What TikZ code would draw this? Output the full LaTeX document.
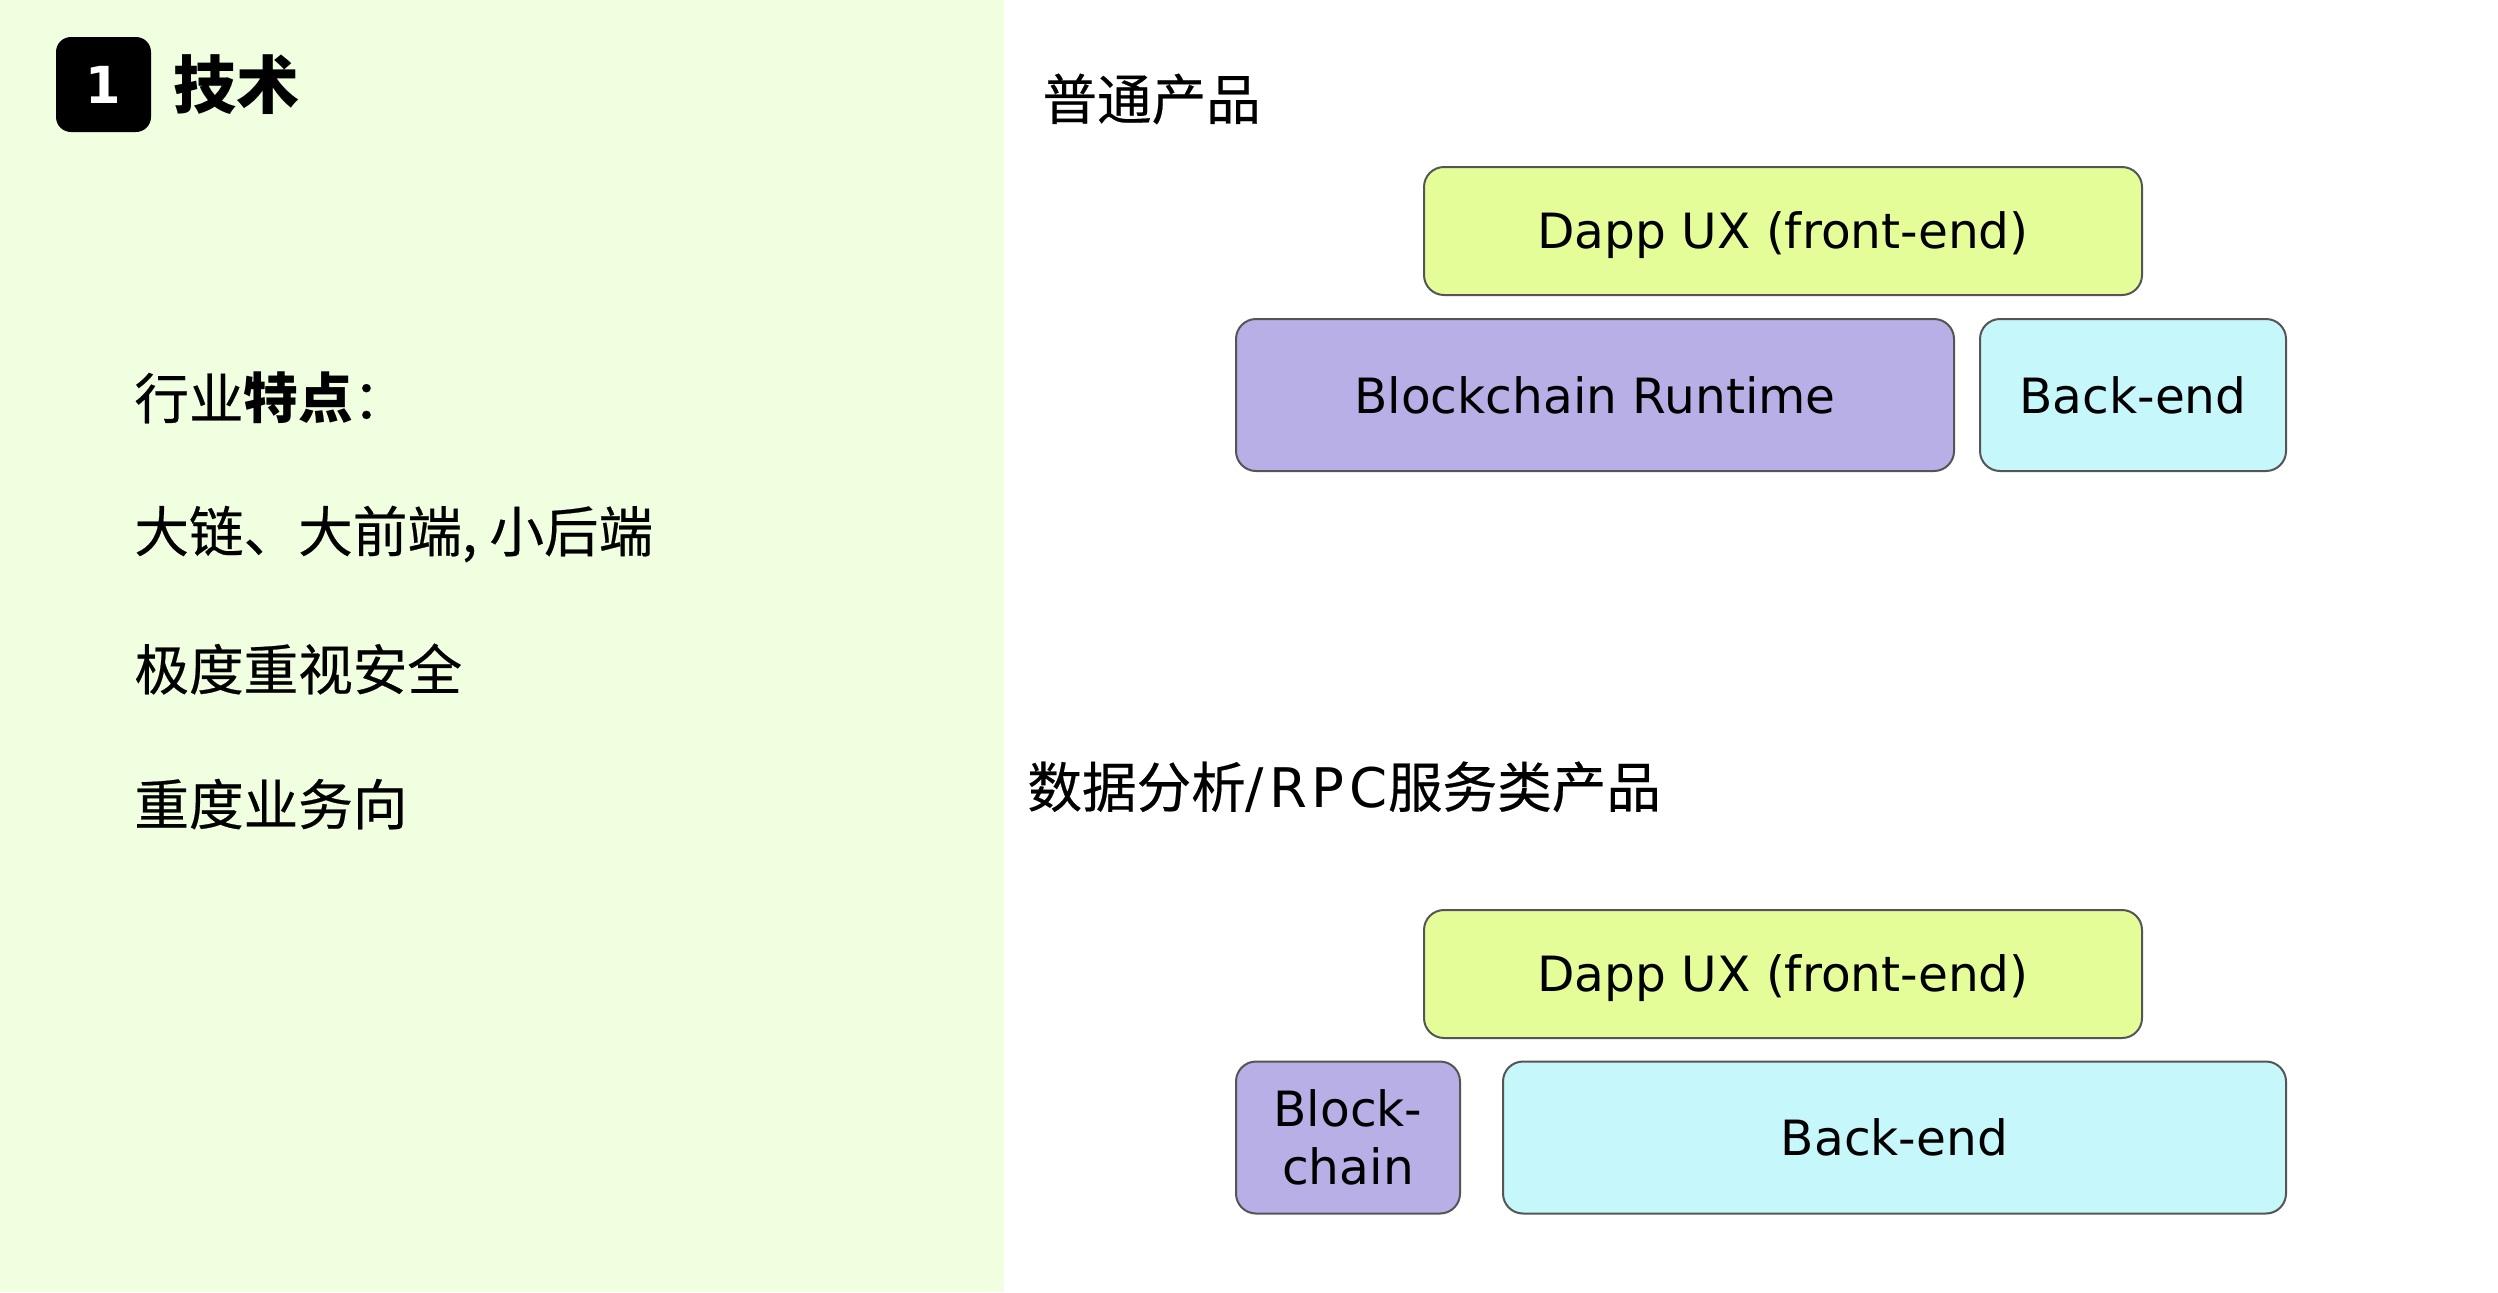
\documentclass[tikz,border=0pt]{standalone}
\usepackage{fontspec}
\setmainfont{DejaVu Sans}
\newfontfamily\cjk[UprightFeatures={FakeBold=0.4}]{Noto Sans CJK SC}
\usetikzlibrary{positioning}

\definecolor{panelgreen}{HTML}{EFFFDF}
\definecolor{frontfill}{HTML}{E4FD99}
\definecolor{chainfill}{HTML}{B8AFE6}
\definecolor{backfill}{HTML}{C6F7FA}
\definecolor{boxline}{HTML}{555555}

\begin{document}
\begin{tikzpicture}[
    x=0.5pt, y=-0.5pt,
    layer/.style={
        draw=boxline, line width=1pt, rounded corners=10pt,
        inner sep=0pt, outer sep=0pt, align=center,
        font=\fontsize{24.3}{29}\selectfont
      },
    frontbox/.style={layer, fill=frontfill, minimum width=359pt, minimum height=64pt,
        text height=17.7pt, text depth=0pt},
    chainbox/.style={layer, fill=chainfill, minimum height=76pt},
    backbox/.style={layer, fill=backfill, minimum height=76pt},
    cjktext/.style={inner sep=0pt, anchor=west, font=\cjk\fontsize{27.3}{32}\selectfont},
  ]

  % page and left panel
  \fill[white] (0,0) rectangle (2498,1292);
  \useasboundingbox (0,0) rectangle (2498,1292);
  \fill[panelgreen] (0,0) rectangle (1004,1292);

  % badge and title
  \node[fill=black, rounded corners=7.5pt, minimum size=47.5pt, inner sep=0pt,
    text=white, font=\bfseries\fontsize{25.5}{30}\selectfont] (badge) at (103.5,84.5) {1};
  \node[cjktext, font=\cjk\bfseries\fontsize{31.5}{36}\selectfont, right=11pt of badge] (title) {技术};

  % notes on the left
  \node[cjktext] (trait) at (134,398) {行业\textbf{特点}：};
  \node[cjktext] (chain) at (134,534) {大链、大前端, 小后端};
  \node[cjktext] (safe) at (134,669) {极度重视安全};
  \node[cjktext] (biz) at (134,804) {重度业务向};

  % stack of a common product
  \node[cjktext] (head1) at (1042,99) {普通产品};
  \node[frontbox] (dapp1) at (1783,231) {Dapp UX (front-end)};
  \node[chainbox, minimum width=359pt] (chain1) at (1595,395) {Blockchain Runtime};
  \node[backbox, minimum width=153pt, right=13pt of chain1] (back1) {Back-end};

  % stack of a data / RPC product
  \node[cjktext] (head2) at (1027,787)
    {数据分析{\rmfamily\addfontfeature{LetterSpace=9}/RPC}服务类产品};
  \node[frontbox] (dapp2) at (1783,974) {Dapp UX (front-end)};
  \node[chainbox, minimum width=112pt] (chain2) at (1348,1137.5) {Block-\\chain};
  \node[backbox, minimum width=391.5pt, right=21.5pt of chain2] (back2) {Back-end};
\end{tikzpicture}
\end{document}
